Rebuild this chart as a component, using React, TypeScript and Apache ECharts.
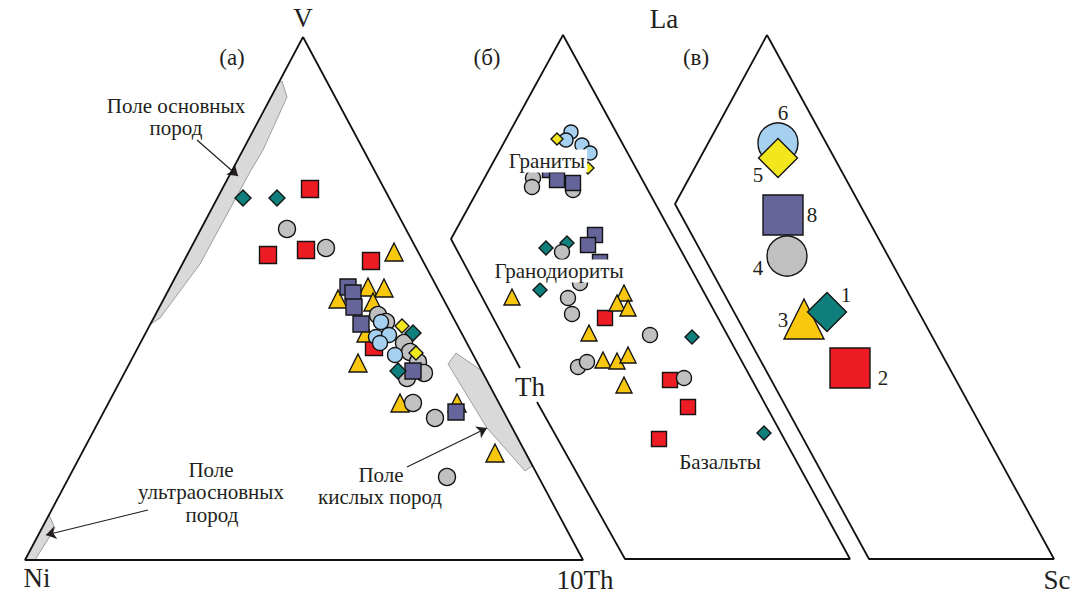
import React, { useEffect, useRef } from "react";
import * as echarts from "echarts";

// Plot frame units: x 0..1074 (left→right), y 0..594 (top→bottom)
const X_MAX = 1074;
const Y_MAX = 594;
const FONT = '"Liberation Serif", "Times New Roman", serif';
const INK = "#231f20";

// Diagram outlines
const outlineA = [[303, 37], [25, 560], [583, 560], [303, 37]];
const outlineB = [[537, 402], [625, 559], [850, 559], [563, 35], [451, 239], [520, 368]];
const outlineC = [[767, 35], [1054, 559], [869, 559], [675, 204], [767, 35]];

// Reference fields (grey)
const fieldBasic = [[278, 84], [282, 81], [287, 97], [263, 150], [250, 172], [200, 264], [160, 318], [151, 324]];
const fieldUltra = [[25, 560], [35, 560], [55, 528], [49, 515]];
const fieldAcid = [[448, 364], [456, 353], [482, 371], [500, 405], [532, 466], [525, 471], [487, 428]];

// Samples, panel (а) V–Ni–10Th
const a1Teal = [[243, 198], [277, 198], [413, 333], [398, 371]];
const a2Red = [[310, 189], [268, 255], [306, 250], [371, 261], [374, 347]];
const a3Tri = [[394, 252], [368, 287], [384, 288], [338, 299], [373, 302], [366, 333], [358, 363], [400, 403], [457, 403], [495, 453]];
const a4Gray = [[287, 229], [326, 248], [378, 315], [386, 322], [404, 343], [410, 352], [418, 362], [424, 373], [407, 378], [413, 403], [435, 418], [447, 477]];
const a8Purple = [[348, 287], [353, 293], [354, 307], [361, 324], [413, 371], [456, 412]];
const a6Blue = [[381, 322], [376, 337], [389, 335], [380, 343], [395, 355]];
const a5Yel = [[402, 326], [416, 353]];

// Samples, panel (б) La–Th–Sc
const b1Teal = [[546, 248], [567, 243], [540, 290], [692, 337], [764, 433]];
const b2Red = [[605, 318], [670, 380], [688, 407], [659, 439]];
const b3Tri = [[512, 297], [624, 293], [617, 303], [628, 308], [589, 333], [603, 360], [617, 361], [628, 355], [624, 385]];
const b4Gray = [[533, 178], [532, 187], [573, 190], [562, 252], [580, 283], [568, 298], [572, 314], [650, 335], [578, 367], [587, 362], [684, 378]];
const b8Purple = [[550, 170], [557, 180], [573, 183], [595, 235], [588, 245], [600, 262]];
const b6Blue = [[571, 132], [566, 140], [582, 145], [590, 153]];
const b5Yel = [[557, 139], [588, 168]];

// Panel (в) legend symbols
const legendIds = ["1", "2", "3", "4", "5", "6", "8"];
const legendPos = [[827, 312], [850, 368], [804, 319], [787, 256], [778, 158], [778, 143], [783, 215]];
const legendNumPos = [[846, 295], [883, 378], [783, 320], [758, 268], [758, 175], [783, 113], [812, 215]];

const COLORS: Record<string, string> = {
  "1": "#0f7f7c",
  "2": "#ed1c24",
  "3": "#f9c80e",
  "4": "#c0c0c0",
  "5": "#f2e61c",
  "6": "#a6d0ef",
  "8": "#65659b",
};
const SYMBOLS: Record<string, string> = {
  "1": "diamond",
  "2": "rect",
  "3": "triangle",
  "4": "circle",
  "5": "diamond",
  "6": "circle",
  "8": "rect",
};

const fields = [fieldBasic, fieldUltra, fieldAcid];

export default function App() {
  const ref = useRef<HTMLDivElement>(null);
  useEffect(() => {
    if (!ref.current) return;
    const chart = echarts.init(ref.current, undefined, { renderer: "svg" });

    const sc = (id: string, data: number[][], size: number, z = 3) => ({
      type: "scatter",
      data,
      symbol: SYMBOLS[id],
      symbolSize: size,
      z,
      silent: true,
      itemStyle: { color: COLORS[id], borderColor: "#141414", borderWidth: 1.4, opacity: 1 },
    });

    const outline = (data: number[][]) => ({
      type: "line",
      data,
      symbol: "none",
      silent: true,
      z: 2,
      lineStyle: { color: "#111", width: 1.8 },
    });

    const txt = (x: number, y: number, text: string, size: number, extra: any = {}) => ({
      type: "text",
      x,
      y,
      z: 100,
      silent: true,
      style: {
        text,
        font: `${size}px ${FONT}`,
        fill: INK,
        align: "center",
        verticalAlign: "middle",
        ...extra,
      },
    });

    const graphic: any[] = [
      txt(303, 18, "V", 27),
      txt(664, 19, "La", 27),
      txt(37, 578, "Ni", 27),
      txt(585, 580, "10Th", 27),
      txt(1057, 580, "Sc", 27),
      txt(530, 387, "Th", 27),
      txt(232, 57, "(а)", 23),
      txt(487, 57, "(б)", 23),
      txt(696, 57, "(в)", 23),
      txt(176, 106, "Поле основных", 21),
      txt(176, 128, "пород", 21),
      txt(211, 470, "Поле", 21),
      txt(211, 492, "ультраосновных", 21),
      txt(212, 515, "пород", 21),
      txt(381, 475, "Поле", 21),
      txt(380, 497, "кислых пород", 21),
      txt(547, 161, "Граниты", 21, { backgroundColor: "#fff", padding: [1, 2] }),
      txt(559, 271, "Гранодиориты", 21, { backgroundColor: "#fff", padding: [1, 2] }),
      txt(720, 462, "Базальты", 21),
      ...legendIds.map((id, i) => txt(legendNumPos[i][0], legendNumPos[i][1], id, 21)),
    ];

    const option: any = {
      animation: false,
      backgroundColor: "#fff",
      grid: { left: 0, right: 0, top: 0, bottom: 0 },
      xAxis: { type: "value", min: 0, max: X_MAX, show: false },
      yAxis: { type: "value", min: 0, max: Y_MAX, inverse: true, show: false },
      series: [
        {
          type: "custom",
          silent: true,
          z: 1,
          data: fields.map((_, i) => [i, 0]),
          renderItem: (params: any, api: any) => {
            const pts = fields[params.dataIndex].map((p) => api.coord(p));
            return {
              type: "polygon",
              shape: { points: pts },
              style: { fill: "#d9d9d9", stroke: "#8a8a8a", lineWidth: 0.8 },
            };
          },
        },
        outline(outlineA),
        outline(outlineB),
        outline(outlineC),
        {
          type: "lines",
          coordinateSystem: "cartesian2d",
          silent: true,
          z: 2,
          symbol: ["none", "arrow"],
          symbolSize: 10,
          lineStyle: { color: INK, width: 1.2, opacity: 1, curveness: 0 },
          data: [
            { coords: [[197, 140], [238, 176]] },
            { coords: [[148, 510], [46, 535]] },
            { coords: [[407, 467], [487, 428]] },
          ],
        },
        sc("2", a2Red, 17),
        sc("3", a3Tri, 18),
        sc("4", a4Gray, 17),
        sc("8", a8Purple, 16),
        sc("6", a6Blue, 15),
        sc("5", a5Yel, 14),
        sc("1", a1Teal, 16),
        sc("2", b2Red, 15),
        sc("3", b3Tri, 16),
        sc("1", b1Teal, 14),
        sc("4", b4Gray, 15),
        sc("8", b8Purple, 15),
        sc("6", b6Blue, 14),
        sc("5", b5Yel, 12),
        ...legendIds.map((id, i) => sc(id, [legendPos[i]], id === "5" || id === "1" ? 39 : 40, id === "5" || id === "1" ? 5 : 4)),
      ],
      graphic,
    };
    chart.setOption(option);
    return () => chart.dispose();
  }, []);

  return (
    <div
      ref={ref}
      style={{ position: "fixed", left: 0, top: 0, width: X_MAX, height: Y_MAX, background: "#fff" }}
    />
  );
}
